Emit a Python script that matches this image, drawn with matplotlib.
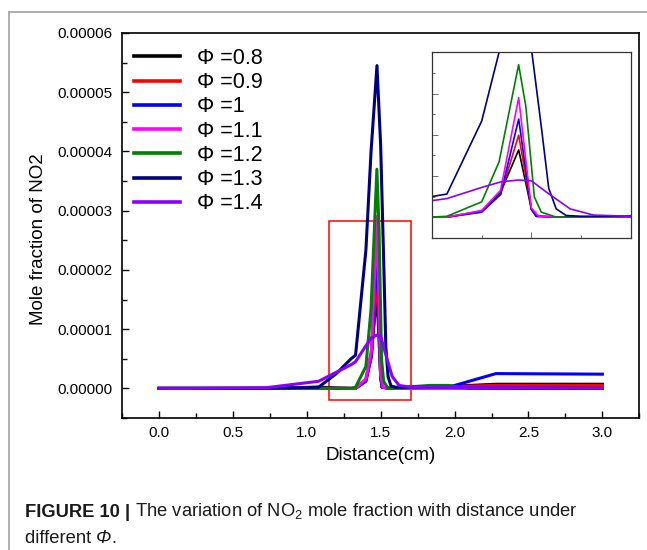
import matplotlib
matplotlib.use("Agg")
import matplotlib.pyplot as plt
import matplotlib.patches as mpatches
from matplotlib.lines import Line2D
from matplotlib.ticker import MultipleLocator, FormatStrFormatter
import numpy as np

plt.rcParams['font.family'] = ['Liberation Sans', 'DejaVu Sans']
plt.rcParams['mathtext.fontset'] = 'custom'
plt.rcParams['mathtext.rm'] = 'Liberation Sans'
plt.rcParams['mathtext.it'] = 'Liberation Sans:italic'

# equivalence ratios and their colours
phi_labels = ['0.8', '0.9', '1', '1.1', '1.2', '1.3', '1.4']
colors = ['#000000', '#ff0000', '#0000ff', '#ff00ff', '#008000', '#000080', '#8a00ff']

# distance (cm) and NO2 mole fraction (x 1e-5)
x_08 = [0, 0.72, 1.08, 1.30, 1.33, 1.40, 1.438, 1.4745, 1.50, 1.51, 1.56, 1.75, 2.28, 3.0]
y_08 = [0, 0, 0.02, 0, 0, 0.15, 0.6, 1.63, 0.2, 0.02, 0, 0.01, 0.07, 0.07]

x_09 = [0, 0.72, 1.08, 1.30, 1.33, 1.40, 1.438, 1.4745, 1.50, 1.51, 1.56, 1.75, 2.28, 3.0]
y_09 = [0, 0, 0.0, 0, 0, 0.13, 0.55, 1.99, 0.2, 0.02, 0, 0.02, 0.05, 0.05]

x_10 = [0, 0.72, 1.08, 1.30, 1.33, 1.40, 1.438, 1.4745, 1.50, 1.51, 1.56, 1.96, 2.28, 3.0]
y_10 = [0, 0, 0.0, 0, 0, 0.12, 0.55, 2.38, 0.18, 0.02, 0, 0.02, 0.25, 0.24]

x_11 = [0, 0.72, 1.08, 1.30, 1.33, 1.40, 1.438, 1.4745, 1.50, 1.515, 1.56, 3.0]
y_11 = [0, 0, 0.0, 0, 0, 0.16, 0.65, 2.90, 0.22, 0.02, 0, 0]

x_12 = [0, 0.72, 1.08, 1.30, 1.33, 1.40, 1.435, 1.4744, 1.489, 1.506, 1.52, 1.55, 1.83, 1.96, 2.1, 3.0]
y_12 = [0, 0, 0.0, 0, 0.02, 0.37, 1.34, 3.70, 2.68, 0.49, 0.12, 0, 0.05, 0.05, 0, 0]

x_13 = [0, 0.72, 1.08, 1.20, 1.30, 1.33, 1.40, 1.435, 1.475, 1.50, 1.52, 1.535, 1.55, 1.57, 1.60, 3.0]
y_13 = [0, 0, 0.02, 0.25, 0.5, 0.56, 2.33, 4.0, 5.45, 4.1, 2.2, 0.7, 0.2, 0.04, 0.02, 0]

x_14 = [0, 0.22, 0.72, 1.08, 1.30, 1.33, 1.40, 1.44, 1.475, 1.50, 1.53, 1.578, 1.625, 1.70, 3.0]
y_14 = [0, 0, 0.01, 0.12, 0.4, 0.45, 0.72, 0.86, 0.9, 0.88, 0.61, 0.2, 0.05, 0.02, 0]

xs = [x_08, x_09, x_10, x_11, x_12, x_13, x_14]
ys = [y_08, y_09, y_10, y_11, y_12, y_13, y_14]

fig = plt.figure(figsize=(6.47, 5.5), dpi=100)

# gray page frame of the original figure
fig.add_artist(Line2D([0.0139, 1.0], [0.979, 0.979], color='#a8a8a8', lw=1.3, transform=fig.transFigure))
fig.add_artist(Line2D([0.0139, 0.0139], [0.0, 0.979], color='#a8a8a8', lw=1.3, transform=fig.transFigure))

ax = fig.add_axes([0.1886, 0.24, 0.7995, 0.70])
for xv, yv, c, lab in zip(xs, ys, colors, phi_labels):
    ax.plot(xv, np.array(yv) * 1e-5, color=c, lw=2.2, label='Φ =' + lab)

ax.set_xlim(-0.25, 3.25)
ax.set_ylim(-0.5e-5, 6e-5)
ax.xaxis.set_major_locator(MultipleLocator(0.5))
ax.xaxis.set_minor_locator(MultipleLocator(0.25))
ax.yaxis.set_major_locator(MultipleLocator(1e-5))
ax.yaxis.set_minor_locator(MultipleLocator(0.5e-5))
ax.xaxis.set_major_formatter(FormatStrFormatter('%.1f'))
ax.yaxis.set_major_formatter(FormatStrFormatter('%.5f'))
ax.tick_params(which='both', direction='in', top=False, right=False, labelsize=11)
ax.tick_params(which='major', length=5, width=1)
ax.tick_params(which='minor', length=3.5, width=1)
ax.tick_params(axis='x', pad=6)
ax.tick_params(axis='y', pad=7)
for s in ax.spines.values():
    s.set_linewidth(1.2)

fig.text(380.6 / 647, 1 - 455 / 550, 'Distance(cm)', ha='center', va='center', fontsize=13.5)
fig.text(39 / 647, 1 - 239 / 550, 'Mole fraction of NO2', ha='center', va='center', rotation=90, fontsize=13.5)

ax.add_patch(mpatches.Rectangle((1.15, -0.19e-5), 0.555, 3.02e-5, fill=False, edgecolor='#ff0000', lw=1.1))

leg = ax.legend(loc='upper left', bbox_to_anchor=(134 / 647, 1 - 48 / 550), bbox_transform=fig.transFigure,
                frameon=False, fontsize=15.5, handlelength=2.14, handletextpad=0.8, labelspacing=0.15,
                borderpad=0, borderaxespad=0)
for ln in leg.get_lines():
    ln.set_linewidth(2.6)

# inset zoom of the flame zone
axi = fig.add_axes([0.6677, 0.5678, 0.3071, 0.3371])
for xv, yv, c in zip(xs, ys, colors):
    axi.plot(xv, np.array(yv) * 1e-5, color=c, lw=1.2)
axi.set_xlim(1.3, 1.7)
axi.set_ylim(-0.5e-5, 4.0e-5)
axi.xaxis.set_major_locator(MultipleLocator(0.5))
axi.xaxis.set_minor_locator(MultipleLocator(0.1))
axi.yaxis.set_major_locator(MultipleLocator(1e-5))
axi.yaxis.set_minor_locator(MultipleLocator(0.5e-5))
axi.tick_params(which='both', direction='in', top=False, right=False,
                labelbottom=False, labelleft=False, width=0.6, color='#555555')
axi.tick_params(which='major', length=4)
axi.tick_params(which='minor', length=2.5)
for s in axi.spines.values():
    s.set_linewidth(0.9)
    s.set_color('#333333')

# caption
cap_size = 13.2
t1 = fig.text(25 / 647, 1 - 517 / 550, 'FIGURE 10 |', fontsize=cap_size, fontweight='bold',
              va='baseline', color='#1a1a1a')
ax.annotate(' The variation of NO$_2$ mole fraction with distance under', xy=(1, 0), xycoords=t1,
            va='bottom', ha='left', fontsize=cap_size, color='#1a1a1a', annotation_clip=False)
t2 = fig.text(25 / 647, 1 - 543 / 550, 'different ', fontsize=cap_size, va='baseline', color='#1a1a1a')
t3 = ax.annotate('Φ', xy=(1, 0), xycoords=t2, va='bottom', ha='left', fontsize=cap_size,
                 style='italic', color='#1a1a1a', annotation_clip=False)
ax.annotate('.', xy=(1, 0), xycoords=t3, va='bottom', ha='left', fontsize=cap_size,
            color='#1a1a1a', annotation_clip=False)

fig.savefig('out.png', dpi=100)
